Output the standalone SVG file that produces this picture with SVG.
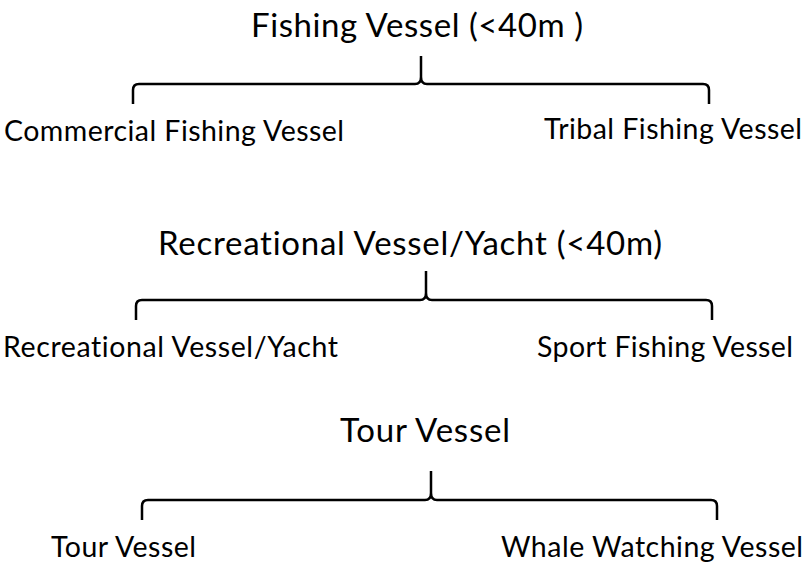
<svg xmlns="http://www.w3.org/2000/svg" width="806" height="565" viewBox="0 0 806 565">
  <style>
    text { font-family: Lato, "Open Sans", "Liberation Sans", sans-serif; fill: #000; font-variant-ligatures: none; }
    .title { font-size: 33px; }
    .item { font-size: 28.5px; }
    .brace { fill: none; stroke: #000; stroke-width: 2.5; stroke-linejoin: round; stroke-linecap: butt; }
  </style>
  <rect width="806" height="565" fill="#fff"/>

  <!-- braces linking each category to its sub-types -->
  <g id="connectors">
    <path class="brace" d="M133,104 L133,90 Q133,84 139,84 L415,84 Q421,84 421,77 L421,56 M421,77 Q421,84 427,84 L703,84 Q709,84 709,90 L709,104"/>
    <path class="brace" d="M136,320 L136,306 Q136,300 142,300 L420,300 Q426,300 426,293 L426,271 M426,293 Q426,300 432,300 L706,300 Q712,300 712,306 L712,320"/>
    <path class="brace" d="M142,520 L142,506 Q142,500 148,500 L425,500 Q431,500 431,493 L431,471 M431,493 Q431,500 437,500 L711,500 Q717,500 717,506 L717,520"/>
  </g>

  <!-- fishing vessels -->
  <g id="fishing">
    <text class="title" x="251" y="37" textLength="332">Fishing Vessel (&lt;40m )</text>
  </g>
  <g id="commercial-fishing">
    <text class="item" x="4" y="141" textLength="340">Commercial Fishing Vessel</text>
  </g>
  <g id="tribal-fishing">
    <text class="item" x="544" y="139" textLength="258">Tribal Fishing Vessel</text>
  </g>

  <!-- recreational vessels -->
  <g id="recreational">
    <text class="title" x="158" y="255" textLength="504">Recreational Vessel/Yacht (&lt;40m)</text>
  </g>
  <g id="recreational-yacht">
    <text class="item" x="3" y="357" textLength="335">Recreational Vessel/Yacht</text>
  </g>
  <g id="sport-fishing">
    <text class="item" x="537" y="357" textLength="256">Sport Fishing Vessel</text>
  </g>

  <!-- tour vessels -->
  <g id="tour">
    <text class="title" x="340" y="442" textLength="170">Tour Vessel</text>
  </g>
  <g id="tour-sub">
    <text class="item" x="51" y="557" textLength="145">Tour Vessel</text>
  </g>
  <g id="whale-watching">
    <text class="item" x="501" y="557" textLength="302">Whale Watching Vessel</text>
  </g>
</svg>
